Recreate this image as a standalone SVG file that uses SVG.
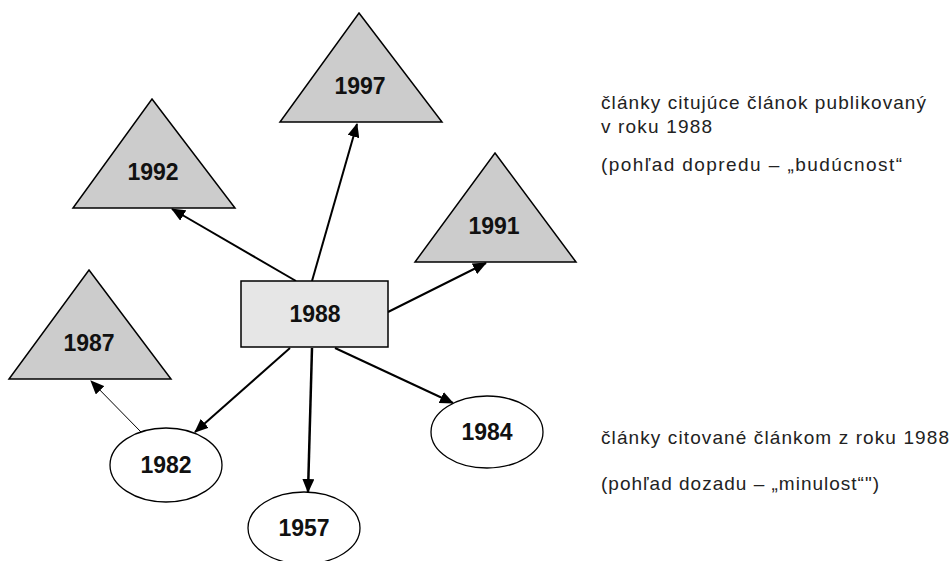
<svg xmlns="http://www.w3.org/2000/svg" width="952" height="561" viewBox="0 0 952 561">
  <style>
    .tri { fill: #cccccc; stroke: #000; stroke-width: 1.5; stroke-linejoin: miter; }
    .box { fill: #e6e6e6; stroke: #000; stroke-width: 1.5; }
    .ell { fill: #ffffff; stroke: #000; stroke-width: 1.3; }
    .lbl { font-family: "Liberation Sans", Arial, sans-serif; font-size: 23px; font-weight: bold; fill: #111; text-anchor: middle; }
    .note { font-family: "Liberation Sans", Arial, sans-serif; font-size: 19px; fill: #222; }
    .arr { stroke: #000; stroke-width: 2; fill: none; marker-end: url(#head); }
    .arr-thin { stroke: #000; stroke-width: 1; fill: none; marker-end: url(#head); }
    .arr-bold { stroke: #000; stroke-width: 2.5; fill: none; marker-end: url(#head); }
  </style>
  <defs>
    <marker id="head" viewBox="0 0 14 12" refX="13" refY="6" markerWidth="14" markerHeight="12" markerUnits="userSpaceOnUse" orient="auto">
      <path d="M0,0 L14,6 L0,12 z" fill="#000"/>
    </marker>
  </defs>
  <rect width="952" height="561" fill="#fff"/>

  <!-- connectors -->
  <g id="connectors">
    <line class="arr" x1="296" y1="281" x2="172" y2="209"/>
    <line class="arr" x1="312" y1="281" x2="357" y2="124"/>
    <line class="arr" x1="388" y1="312" x2="486" y2="263"/>
    <line class="arr" x1="290" y1="348" x2="195" y2="432"/>
    <line class="arr-bold" x1="312" y1="348" x2="308" y2="492"/>
    <line class="arr" x1="335" y1="348" x2="453" y2="403"/>
    <line class="arr-thin" x1="141" y1="432" x2="91" y2="381"/>
  </g>

  <!-- citing articles (triangles) -->
  <g id="n1997">
    <polygon class="tri" points="359,13 442,122 280,122"/>
    <text class="lbl" x="360" y="94">1997</text>
  </g>
  <g id="n1992">
    <polygon class="tri" points="152,99 235,208 73,208"/>
    <text class="lbl" x="153" y="180">1992</text>
  </g>
  <g id="n1991">
    <polygon class="tri" points="495,153 576,262 415,262"/>
    <text class="lbl" x="494" y="234">1991</text>
  </g>
  <g id="n1987">
    <polygon class="tri" points="89,270 171,379 9,379"/>
    <text class="lbl" x="89" y="351">1987</text>
  </g>

  <!-- the 1988 article -->
  <g id="n1988">
    <rect class="box" x="241" y="281" width="147" height="66"/>
    <text class="lbl" x="315" y="322">1988</text>
  </g>

  <!-- cited articles (ellipses) -->
  <g id="n1982">
    <ellipse class="ell" cx="166" cy="465" rx="56" ry="37"/>
    <text class="lbl" x="166" y="473">1982</text>
  </g>
  <g id="n1957">
    <ellipse class="ell" cx="304" cy="528" rx="56" ry="36"/>
    <text class="lbl" x="304" y="536">1957</text>
  </g>
  <g id="n1984">
    <ellipse class="ell" cx="487" cy="432" rx="56" ry="36"/>
    <text class="lbl" x="487" y="440">1984</text>
  </g>

  <!-- explanatory notes -->
  <g id="notes">
    <text class="note" x="601" y="109" textLength="325" lengthAdjust="spacing">články citujúce článok publikovaný</text>
    <text class="note" x="601" y="133" textLength="111" lengthAdjust="spacing">v roku 1988</text>
    <text class="note" x="601" y="171" textLength="301" lengthAdjust="spacing">(pohľad dopredu –  „budúcnost“</text>
    <text class="note" x="601" y="444" textLength="348" lengthAdjust="spacing">články citované článkom z roku 1988</text>
    <text class="note" x="601" y="490" textLength="278" lengthAdjust="spacing">(pohľad dozadu – „minulost“")</text>
  </g>
</svg>
